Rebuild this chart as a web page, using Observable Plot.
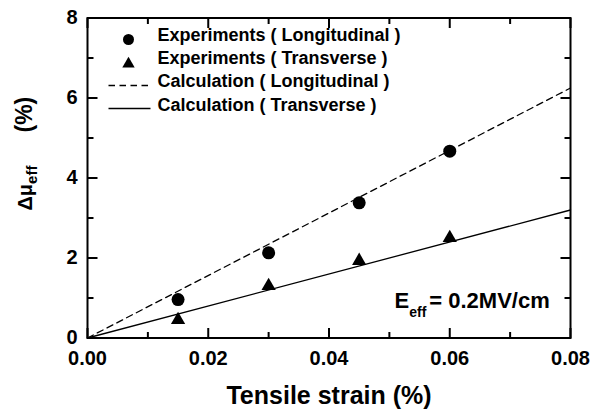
<!DOCTYPE html>
<html><head><meta charset="utf-8">
<script src="https://cdn.jsdelivr.net/npm/d3@7"></script>
<script src="https://cdn.jsdelivr.net/npm/@observablehq/plot@0.6"></script>
<style>body{margin:0;background:#fff;} svg{display:block}</style>
</head><body><div id="chart"></div>
<script>
// ---- data ----
const xTicks = [0, 0.02, 0.04, 0.06, 0.08];
const xMinor = [0.01, 0.03, 0.05, 0.07];
const yTicks = [0, 2, 4, 6, 8];
const yMinor = [1, 3, 5, 7];
const strain = [0.015, 0.03, 0.045, 0.06];
const expLong = [0.96, 2.13, 3.38, 4.67];
const expTrans = [0.45, 1.30, 1.93, 2.50];
const calcStrain = [0, 0.08];
const calcLong = [0, 6.25];
const calcTrans = [0, 3.2];
const legendLabels = ["Experiments ( Longitudinal )", "Experiments ( Transverse )", "Calculation ( Longitudinal )", "Calculation ( Transverse )"];
const xTitle = "Tensile strain (%)";
const yTitleParts = ["\u0394\u03bc", "eff", "(%)"];
const noteParts = ["E", "eff", "= 0.2MV/cm"];

// ---- layout ----
const W = 604, H = 412, mL = 87, mR = 34, mT = 17.5, mB = 74.5;
const fw = W - mL - mR, fh = H - mT - mB;
const xDom = [0, 0.08], yDom = [0, 8];
const font = "'Liberation Sans', Arial, Helvetica, sans-serif";

const expData = strain.map((s, i) => ({s, long: expLong[i], trans: expTrans[i]}));
const calcData = calcStrain.map((s, i) => ({s, long: calcLong[i], trans: calcTrans[i]}));

// tick lengths (pixels) expressed in scale units
const xPx = (xDom[1] - xDom[0]) / fw, yPx = (yDom[1] - yDom[0]) / fh;
const tk = {stroke: "black", strokeWidth: 2, strokeLinecap: "butt"};
const xTickLinks = (vals, len) => [
  Plot.link(vals, {x1: d => d, x2: d => d, y1: yDom[0], y2: yDom[0] + len * yPx, ...tk}),
  Plot.link(vals, {x1: d => d, x2: d => d, y1: yDom[1], y2: yDom[1] - len * yPx, ...tk})
];
const yTickLinks = (vals, len) => [
  Plot.link(vals, {y1: d => d, y2: d => d, x1: xDom[0], x2: xDom[0] + len * xPx, ...tk}),
  Plot.link(vals, {y1: d => d, y2: d => d, x1: xDom[1], x2: xDom[1] - len * xPx, ...tk})
];

const hLine = {draw(ctx) { ctx.moveTo(-21, 0); ctx.lineTo(21, 0); }};
const legendDy = [23.4, 45.7, 69.4, 92.7];

const chart = Plot.plot({
  width: W, height: H,
  marginLeft: mL, marginRight: mR, marginTop: mT, marginBottom: mB,
  style: {fontFamily: font, background: "white", color: "black"},
  x: {domain: xDom},
  y: {domain: yDom},
  marks: [
    Plot.frame({stroke: "black", strokeWidth: 2, fill: "none"}),
    Plot.axisX(xTicks, {anchor: "bottom", tickSize: 0, tickPadding: 12.5, tickFormat: d3.format(".2f"), fontSize: 20, fontWeight: "bold", label: null}),
    Plot.axisY(yTicks, {anchor: "left", tickSize: 0, tickPadding: 10, tickFormat: d3.format("d"), fontSize: 20, fontWeight: "bold", label: null}),
    ...xTickLinks(xTicks, 10),
    ...xTickLinks(xMinor, 6),
    ...yTickLinks(yTicks, 10),
    ...yTickLinks(yMinor, 6),
    // calculation lines
    Plot.line(calcData, {x: "s", y: "long", stroke: "black", strokeWidth: 1.3, strokeDasharray: "6.5,4.5"}),
    Plot.line(calcData, {x: "s", y: "trans", stroke: "black", strokeWidth: 1.3}),
    // experiments
    Plot.dot(expData, {x: "s", y: "long", r: 6.5, fill: "black", symbol: "circle"}),
    Plot.dot(expData, {x: "s", y: "trans", r: 5.3, fill: "black", symbol: "triangle"}),
    // legend
    Plot.dot([0], {frameAnchor: "top-left", dx: 41, dy: 21.5, r: 5.5, fill: "black", symbol: "circle"}),
    Plot.dot([0], {frameAnchor: "top-left", dx: 41, dy: 46, r: 4.6, fill: "black", symbol: "triangle"}),
    Plot.dot([0], {frameAnchor: "top-left", dx: 42, dy: 67.5, symbol: hLine, fill: "none", stroke: "black", strokeWidth: 1.3, strokeDasharray: "6.5,4.5"}),
    Plot.dot([0], {frameAnchor: "top-left", dx: 42, dy: 90.5, symbol: hLine, fill: "none", stroke: "black", strokeWidth: 1.3}),
    ...legendLabels.map((l, i) => Plot.text([l], {text: d => d, frameAnchor: "top-left", dx: 70, dy: legendDy[i], textAnchor: "start", lineAnchor: "bottom", fontSize: 18, fontWeight: "bold"})),
    // annotation
    Plot.text([noteParts.join("")], {text: d => d, frameAnchor: "bottom-left", dx: 394 - mL, dy: 307 - (H - mB), textAnchor: "start", lineAnchor: "bottom", fontSize: 22, fontWeight: "bold"}),
    // axis titles
    Plot.text([xTitle], {text: d => d, frameAnchor: "bottom", dy: 403 - (H - mB), lineAnchor: "bottom", fontSize: 25, fontWeight: "bold"}),
    Plot.text([yTitleParts.join("")], {text: d => d, frameAnchor: "top-left", dx: 31.5 - mL, dy: 210 - mT, rotate: -90, textAnchor: "start", lineAnchor: "bottom", fontSize: 20, fontWeight: "bold"})
  ]
});

// subscripts
d3.select(chart).selectAll("text").each(function () {
  const s = this.textContent;
  const t = d3.select(this);
  if (s === yTitleParts.join("")) {
    t.text(null).attr("y", null);
    t.append("tspan").attr("font-size", 20).text(yTitleParts[0]);
    t.append("tspan").attr("font-size", 15).attr("dy", 5).text(yTitleParts[1]);
    t.append("tspan").attr("font-size", 23).attr("x", 78).attr("dy", -5).text(yTitleParts[2]);
  } else if (s === noteParts.join("")) {
    t.text(null).attr("y", null);
    t.append("tspan").text(noteParts[0]);
    t.append("tspan").attr("font-size", 14).attr("dy", 9.5).text(noteParts[1]);
    t.append("tspan").attr("dy", -9.5).attr("dx", 3).text(noteParts[2]);
  }
});

document.getElementById("chart").appendChild(chart);
</script>
</body></html>
